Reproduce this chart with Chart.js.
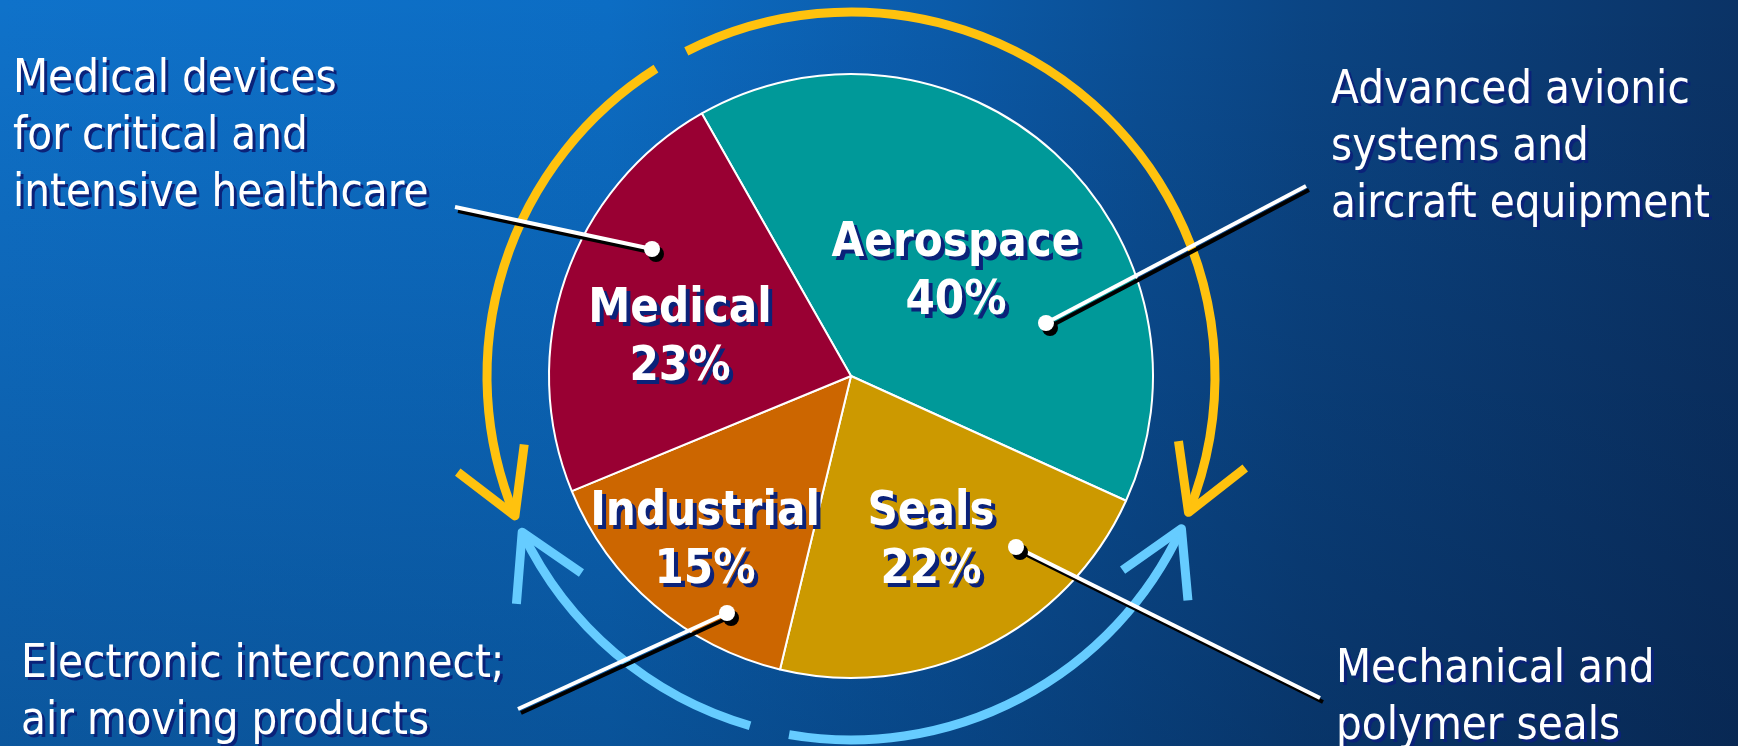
<!DOCTYPE html>
<html>
<head>
<meta charset="utf-8">
<script src="https://cdn.jsdelivr.net/npm/chart.js@4.4.1/dist/chart.umd.min.js"></script>
<style>
  html, body { margin: 0; padding: 0; overflow: hidden; background: #0a4a8e; }
  #wrap { width: 1738px; height: 746px; }
</style>
</head>
<body>
<div id="wrap"><canvas id="chart" width="1738" height="746"></canvas></div>
<script>
// Dados do gráfico (ordem horária a partir do topo)
const categories = ['Aerospace', 'Seals', 'Industrial', 'Medical'];
const shares = [40, 22, 15, 23];
const sliceColors = ['#009999', '#CC9900', '#CC6600', '#990033'];
const descriptions = [
    ['Advanced avionic', 'systems and', 'aircraft equipment'],
    ['Mechanical and', 'polymer seals'],
    ['Electronic interconnect;', 'air moving products'],
    ['Medical devices', 'for critical and', 'intensive healthcare']
];

// Layout (posições em px)
const labelPos = [[956, 256], [931, 525], [705, 525], [680, 322]];
const descPos = [[1331, 103], [1336, 682], [21, 677], [13, 92]];
const leaderLines = [
    [1306, 186, 1046, 323],
    [1320, 698, 1016, 547],
    [518, 709, 727, 613],
    [455, 207, 652, 249]
];
const ring = { cx: 851, cy: 376, r: 364 };
// arcos das setas: [inicio, fim (ponta)] em graus, sentido horário a partir do topo
const arrows = [
    { from: -32.4, to: -112.6, color: '#FFC20E' },
    { from: -26.9, to: 112.0, color: '#FFC20E' },
    { from: 196.1, to: 244.6, color: '#66CCFF' },
    { from: 189.8, to: 114.8, color: '#66CCFF' }
];

const SHADOW = '#0b2279';

function drawText(ctx, text, x, y, align, sx, off) {
    ctx.save();
    ctx.translate(x, y);
    ctx.scale(sx, 1);
    ctx.textAlign = align;
    ctx.textBaseline = 'alphabetic';
    ctx.fillStyle = SHADOW;
    ctx.fillText(text, off / sx, off);
    ctx.fillStyle = '#ffffff';
    ctx.fillText(text, 0, 0);
    ctx.restore();
}

function drawArrow(ctx, a) {
    const rad = d => (d - 90) * Math.PI / 180;
    const { cx, cy, r } = ring;
    ctx.save();
    ctx.strokeStyle = a.color;
    ctx.lineWidth = 9;
    ctx.lineCap = 'butt';
    ctx.lineJoin = 'round';
    ctx.beginPath();
    ctx.arc(cx, cy, r, rad(a.from), rad(a.to), a.to < a.from);
    ctx.stroke();

    // ponta da seta
    const t = rad(a.to);
    const tx = cx + r * Math.cos(t), ty = cy + r * Math.sin(t);
    const dir = a.to > a.from ? 1 : -1;
    const fx = -Math.sin(t) * dir, fy = Math.cos(t) * dir;
    const back = Math.atan2(-fy, -fx);
    const spread = 30 * Math.PI / 180, len = 72;
    ctx.beginPath();
    ctx.moveTo(tx + len * Math.cos(back - spread), ty + len * Math.sin(back - spread));
    ctx.lineTo(tx, ty);
    ctx.lineTo(tx + len * Math.cos(back + spread), ty + len * Math.sin(back + spread));
    ctx.stroke();
    ctx.restore();
}

const decorPlugin = {
    id: 'decor',
    beforeDraw(chart) {
        const ctx = chart.ctx;
        const w = chart.width, h = chart.height;
        // fundo: degradê horizontal + escurecimento vertical
        const g = ctx.createLinearGradient(0, 0, w, 0);
        g.addColorStop(0, '#0f72ca');
        g.addColorStop(0.35, '#0c6dc4');
        g.addColorStop(0.55, '#0b5aa8');
        g.addColorStop(0.75, '#0b4584');
        g.addColorStop(1, '#0b3366');
        ctx.save();
        ctx.fillStyle = g;
        ctx.fillRect(0, 0, w, h);
        const v = ctx.createLinearGradient(0, 0, 0, h);
        v.addColorStop(0, 'rgba(0, 8, 30, 0)');
        v.addColorStop(1, 'rgba(0, 8, 30, 0.26)');
        ctx.fillStyle = v;
        ctx.fillRect(0, 0, w, h);
        ctx.restore();

        arrows.forEach(a => drawArrow(ctx, a));
    },
    afterDatasetsDraw(chart) {
        const ctx = chart.ctx;

        // rótulos dentro das fatias
        ctx.font = 'bold 48px "DejaVu Sans"';
        categories.forEach((name, i) => {
            const [x, y] = labelPos[i];
            drawText(ctx, name, x, y, 'center', 0.88, 4);
            drawText(ctx, shares[i] + '%', x, y + 58, 'center', 0.88, 4);
        });

        // linhas de chamada
        leaderLines.forEach(([x1, y1, x2, y2]) => {
            ctx.save();
            ctx.lineWidth = 4;
            ctx.strokeStyle = '#000000';
            ctx.beginPath();
            ctx.moveTo(x1 + 3, y1 + 4);
            ctx.lineTo(x2 + 3, y2 + 4);
            ctx.stroke();
            ctx.strokeStyle = '#ffffff';
            ctx.beginPath();
            ctx.moveTo(x1, y1);
            ctx.lineTo(x2, y2);
            ctx.stroke();
            ctx.fillStyle = '#000000';
            ctx.beginPath();
            ctx.arc(x2 + 4, y2 + 5, 8, 0, Math.PI * 2);
            ctx.fill();
            ctx.fillStyle = '#ffffff';
            ctx.beginPath();
            ctx.arc(x2, y2, 8, 0, Math.PI * 2);
            ctx.fill();
            ctx.restore();
        });

        // descrições externas
        ctx.font = '46px "DejaVu Sans"';
        descriptions.forEach((lines, i) => {
            const [x, y] = descPos[i];
            lines.forEach((line, k) => {
                drawText(ctx, line, x, y + k * 57, 'left', 0.885, 3);
            });
        });
    }
};

const ctx = document.getElementById('chart').getContext('2d');
const chart = new Chart(ctx, {
    type: 'pie',
    data: {
        labels: categories,
        datasets: [{
            data: shares,
            backgroundColor: sliceColors,
            borderColor: '#ffffff',
            borderWidth: 2
        }]
    },
    options: {
        responsive: false,
        animation: false,
        devicePixelRatio: 1,
        rotation: -29.6,
        layout: { padding: { top: 73, bottom: 67, left: 500, right: 536 } },
        plugins: {
            legend: { display: false },
            tooltip: { enabled: false }
        }
    },
    plugins: [decorPlugin]
});
</script>
</body>
</html>
